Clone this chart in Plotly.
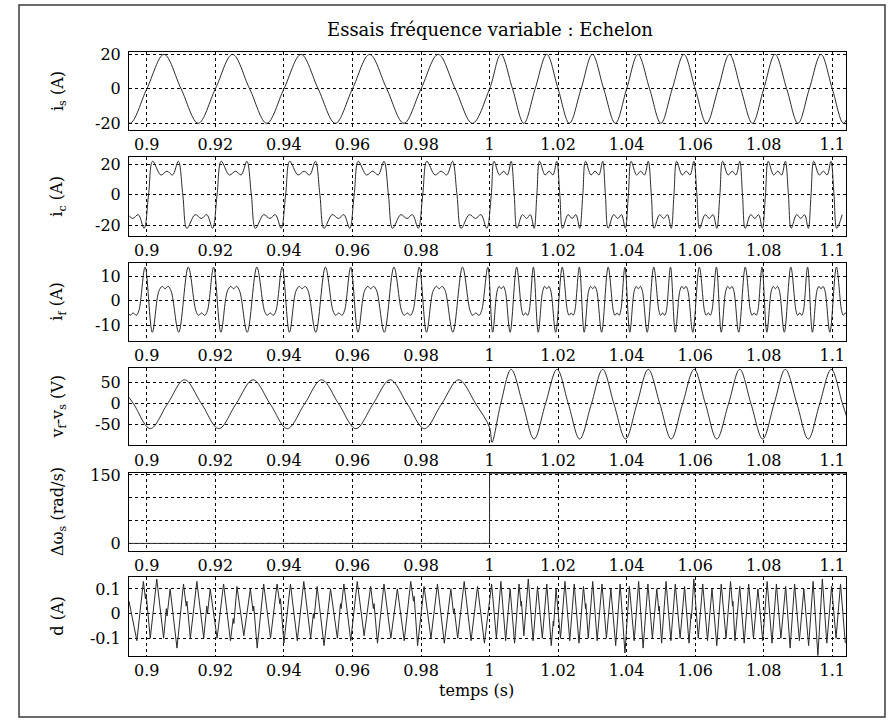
import plotly.graph_objects as go
from plotly.subplots import make_subplots

# ---- data (time in s) ----
x_ticks = [0.9, 0.92, 0.94, 0.96, 0.98, 1.0, 1.02, 1.04, 1.06, 1.08, 1.1]
x_tick_text = ["0.9", "0.92", "0.94", "0.96", "0.98", "1", "1.02", "1.04", "1.06", "1.08", "1.1"]

# i_s : stator current
t_is = [0.890, 0.895, 0.900, 0.905, 0.910, 0.915, 0.920, 0.925, 0.930, 0.935,
        0.940, 0.945, 0.950, 0.955, 0.960, 0.965, 0.970, 0.975, 0.980, 0.985,
        0.990, 0.995, 1.000, 1.0033, 1.0067, 1.0100, 1.0133, 1.0167, 1.0200, 1.0233,
        1.0267, 1.0300, 1.0333, 1.0367, 1.0400, 1.0433, 1.0467, 1.0500, 1.0533, 1.0567,
        1.0600, 1.0633, 1.0667, 1.0700, 1.0733, 1.0767, 1.0800, 1.0833, 1.0867, 1.0900,
        1.0933, 1.0967, 1.1000, 1.1033, 1.1067]
v_is = [0, -20, 0, 20, 0, -20, 0, 20, 0, -20,
        0, 20, 0, -20, 0, 20, 0, -20, 0, 20,
        0, -20, 0, 20, 0, -20, 0, 20, 0, -20,
        0, 20, 0, -20, 0, 20, 0, -20, 0, 20,
        0, -20, 0, 20, 0, -20, 0, 20, 0, -20,
        0, 20, 0, -20, 0]

# i_c : load current
t_ic = [0.8917, 0.8941, 0.8959, 0.8975, 0.8992, 0.9005,
        0.9017, 0.9041, 0.9059, 0.9075, 0.9092, 0.9105,
        0.9117, 0.9141, 0.9159, 0.9175, 0.9192, 0.9205,
        0.9217, 0.9241, 0.9259, 0.9275, 0.9292, 0.9305,
        0.9317, 0.9341, 0.9359, 0.9375, 0.9392, 0.9405,
        0.9417, 0.9441, 0.9459, 0.9475, 0.9492, 0.9505,
        0.9517, 0.9541, 0.9559, 0.9575, 0.9592, 0.9605,
        0.9617, 0.9641, 0.9659, 0.9675, 0.9692, 0.9705,
        0.9717, 0.9741, 0.9759, 0.9775, 0.9792, 0.9805,
        0.9817, 0.9841, 0.9859, 0.9875, 0.9892, 0.9905,
        0.9917, 0.9941, 0.9959, 0.9975, 0.9992, 1.0005,
        1.0013, 1.0029, 1.0041, 1.0052, 1.0063, 1.0072,
        1.0080, 1.0096, 1.0108, 1.0119, 1.0130, 1.0138,
        1.0146, 1.0162, 1.0174, 1.0185, 1.0196, 1.0205,
        1.0213, 1.0229, 1.0241, 1.0252, 1.0263, 1.0272,
        1.0280, 1.0296, 1.0308, 1.0319, 1.0330, 1.0338,
        1.0346, 1.0362, 1.0374, 1.0385, 1.0396, 1.0405,
        1.0413, 1.0429, 1.0441, 1.0452, 1.0463, 1.0472,
        1.0480, 1.0496, 1.0508, 1.0519, 1.0530, 1.0538,
        1.0546, 1.0562, 1.0574, 1.0585, 1.0596, 1.0605,
        1.0613, 1.0629, 1.0641, 1.0652, 1.0663, 1.0672,
        1.0680, 1.0696, 1.0708, 1.0719, 1.0730, 1.0738,
        1.0746, 1.0762, 1.0774, 1.0785, 1.0796, 1.0805,
        1.0813, 1.0829, 1.0841, 1.0852, 1.0863, 1.0872,
        1.0880, 1.0896, 1.0908, 1.0919, 1.0930, 1.0938,
        1.0946, 1.0962, 1.0974, 1.0985, 1.0996, 1.1005,
        1.1013, 1.1029]
v_ic = [-22, -13, -15.5, -13, -22, 0,
        22, 13, 15.5, 13, 22, 0,
        -22, -13, -15.5, -13, -22, 0,
        22, 13, 15.5, 13, 22, 0,
        -22, -13, -15.5, -13, -22, 0,
        22, 13, 15.5, 13, 22, 0,
        -22, -13, -15.5, -13, -22, 0,
        22, 13, 15.5, 13, 22, 0,
        -22, -13, -15.5, -13, -22, 0,
        22, 13, 15.5, 13, 22, 0,
        -22, -13, -15.5, -13, -22, 0,
        22, 13, 15.5, 13, 22, 0,
        -22, -13, -15.5, -13, -22, 0,
        22, 13, 15.5, 13, 22, 0,
        -22, -13, -15.5, -13, -22, 0,
        22, 13, 15.5, 13, 22, 0,
        -22, -13, -15.5, -13, -22, 0,
        22, 13, 15.5, 13, 22, 0,
        -22, -13, -15.5, -13, -22, 0,
        22, 13, 15.5, 13, 22, 0,
        -22, -13, -15.5, -13, -22, 0,
        22, 13, 15.5, 13, 22, 0,
        -22, -13, -15.5, -13, -22, 0,
        22, 13, 15.5, 13, 22, 0,
        -22, -13, -15.5, -13, -22, 0,
        22, 13, 15.5, 13, 22, 0,
        -22, -13]

# i_f : filter current
t_if = [0.8943, 0.8951, 0.8960, 0.8969, 0.8977,
        0.8995, 0.9016, 0.9035, 0.9045, 0.9053, 0.9062, 0.9071, 0.9093, 0.9121, 0.9143, 0.9151, 0.9160, 0.9169, 0.9177,
        0.9195, 0.9216, 0.9235, 0.9245, 0.9253, 0.9262, 0.9271, 0.9293, 0.9321, 0.9343, 0.9351, 0.9360, 0.9369, 0.9377,
        0.9395, 0.9416, 0.9435, 0.9445, 0.9453, 0.9462, 0.9471, 0.9493, 0.9521, 0.9543, 0.9551, 0.9560, 0.9569, 0.9577,
        0.9595, 0.9616, 0.9635, 0.9645, 0.9653, 0.9662, 0.9671, 0.9693, 0.9721, 0.9743, 0.9751, 0.9760, 0.9769, 0.9777,
        0.9795, 0.9816, 0.9835, 0.9845, 0.9853, 0.9862, 0.9871, 0.9893, 0.9921, 0.9943, 0.9951, 0.9960, 0.9969, 0.9977,
        0.9995, 1.0009, 1.0022, 1.0028, 1.0034, 1.0040, 1.0046, 1.0060, 1.0079, 1.0094, 1.0099, 1.0105, 1.0111, 1.0116,
        1.0128, 1.0142, 1.0155, 1.0161, 1.0167, 1.0173, 1.0179, 1.0193, 1.0212, 1.0227, 1.0232, 1.0238, 1.0244, 1.0249,
        1.0262, 1.0276, 1.0289, 1.0295, 1.0301, 1.0307, 1.0313, 1.0327, 1.0346, 1.0361, 1.0366, 1.0372, 1.0378, 1.0383,
        1.0395, 1.0409, 1.0422, 1.0428, 1.0434, 1.0440, 1.0446, 1.0460, 1.0479, 1.0494, 1.0499, 1.0505, 1.0511, 1.0516,
        1.0528, 1.0542, 1.0555, 1.0561, 1.0567, 1.0573, 1.0579, 1.0593, 1.0612, 1.0627, 1.0632, 1.0638, 1.0644, 1.0649,
        1.0662, 1.0676, 1.0689, 1.0695, 1.0701, 1.0707, 1.0713, 1.0727, 1.0746, 1.0761, 1.0766, 1.0772, 1.0778, 1.0783,
        1.0795, 1.0809, 1.0822, 1.0828, 1.0834, 1.0840, 1.0846, 1.0860, 1.0879, 1.0894, 1.0899, 1.0905, 1.0911, 1.0916,
        1.0928, 1.0942, 1.0955, 1.0961, 1.0967, 1.0973, 1.0979, 1.0993, 1.1012, 1.1027, 1.1032, 1.1038, 1.1044, 1.1049]
v_if = [-4, -6, -5, -6, -4,
        14, -13, 4, 6, 5, 6, 4, -13, 14, -4, -6, -5, -6, -4,
        14, -13, 4, 6, 5, 6, 4, -13, 14, -4, -6, -5, -6, -4,
        14, -13, 4, 6, 5, 6, 4, -13, 14, -4, -6, -5, -6, -4,
        14, -13, 4, 6, 5, 6, 4, -13, 14, -4, -6, -5, -6, -4,
        14, -13, 4, 6, 5, 6, 4, -13, 14, -4, -6, -5, -6, -4,
        14, -13, 4, 6, 5, 6, 4, -13, 14, -4, -6, -5, -6, -4,
        14, -13, 4, 6, 5, 6, 4, -13, 14, -4, -6, -5, -6, -4,
        14, -13, 4, 6, 5, 6, 4, -13, 14, -4, -6, -5, -6, -4,
        14, -13, 4, 6, 5, 6, 4, -13, 14, -4, -6, -5, -6, -4,
        14, -13, 4, 6, 5, 6, 4, -13, 14, -4, -6, -5, -6, -4,
        14, -13, 4, 6, 5, 6, 4, -13, 14, -4, -6, -5, -6, -4,
        14, -13, 4, 6, 5, 6, 4, -13, 14, -4, -6, -5, -6, -4,
        14, -13, 4, 6, 5, 6, 4, -13, 14, -4, -6, -5, -6, -4]

# v_f - v_s
t_v = [0.8910, 0.8960, 0.9010, 0.9060, 0.9110, 0.9160, 0.9210, 0.9260, 0.9310, 0.9360,
       0.9410, 0.9460, 0.9510, 0.9560, 0.9610, 0.9660, 0.9710, 0.9760, 0.9810, 0.9860,
       0.9910, 0.9960, 1.0000, 1.0007, 1.0033, 1.0063, 1.0097, 1.0130, 1.0163, 1.0197,
       1.0230, 1.0263, 1.0297, 1.0330, 1.0363, 1.0397, 1.0430, 1.0463, 1.0497, 1.0530,
       1.0563, 1.0597, 1.0630, 1.0663, 1.0697, 1.0730, 1.0763, 1.0797, 1.0830, 1.0863,
       1.0897, 1.0930, 1.0963, 1.0997, 1.1030, 1.1063]
v_v = [56, 0, -61, -2, 56, -2, -61, -2, 56, -2,
       -61, -2, 56, -2, -61, -2, 56, -2, -61, -2,
       56, -2, -58, -94, 0, 81, -2, -86, -2, 81,
       -2, -86, -2, 81, -2, -86, -2, 81, -2, -86,
       -2, 81, -2, -86, -2, 81, -2, -86, -2, 81,
       -2, -86, -2, 81, -2, -86]

# delta omega_s (step)
t_dw = [0.8948, 1.0, 1.0, 1.104]
v_dw = [0, 0, 153.5, 153.5]

# d
t_d = [0.8948, 0.8971, 0.8990, 0.8996, 0.8998, 0.9010, 0.9029, 0.9049, 0.9057, 0.9059,
       0.9068, 0.9088, 0.9107, 0.9115, 0.9117, 0.9127, 0.9146, 0.9166, 0.9175, 0.9177,
       0.9185, 0.9205, 0.9224, 0.9244, 0.9252, 0.9254, 0.9263, 0.9283, 0.9302, 0.9310,
       0.9312, 0.9322, 0.9341, 0.9361, 0.9380, 0.9388, 0.9390, 0.9400, 0.9419, 0.9439,
       0.9458, 0.9478, 0.9486, 0.9488, 0.9497, 0.9517, 0.9536, 0.9556, 0.9565, 0.9567,
       0.9575, 0.9595, 0.9614, 0.9634, 0.9653, 0.9661, 0.9663, 0.9673, 0.9692, 0.9712,
       0.9731, 0.9751, 0.9770, 0.9778, 0.9780, 0.9790, 0.9809, 0.9829, 0.9848, 0.9868,
       0.9887, 0.9895, 0.9897, 0.9907, 0.9926, 0.9946, 0.9965, 0.9985,
       1.0006, 1.0020, 1.0033, 1.0047, 1.0060, 1.0073, 1.0086, 1.0092, 1.0093, 1.0100,
       1.0113, 1.0127, 1.0140, 1.0154, 1.0167, 1.0180, 1.0186, 1.0187, 1.0194, 1.0207,
       1.0220, 1.0234, 1.0247, 1.0261, 1.0274, 1.0280, 1.0281, 1.0288, 1.0301, 1.0314,
       1.0328, 1.0341, 1.0354, 1.0368, 1.0381, 1.0387, 1.0388, 1.0395, 1.0408, 1.0422,
       1.0435, 1.0448, 1.0462, 1.0475, 1.0488, 1.0494, 1.0495, 1.0502, 1.0515, 1.0529,
       1.0542, 1.0556, 1.0569, 1.0582, 1.0588, 1.0589, 1.0596, 1.0609, 1.0622, 1.0636,
       1.0649, 1.0663, 1.0676, 1.0690, 1.0703, 1.0709, 1.0710, 1.0716, 1.0730, 1.0743,
       1.0756, 1.0770, 1.0783, 1.0797, 1.0810, 1.0816, 1.0817, 1.0824, 1.0837, 1.0850,
       1.0864, 1.0877, 1.0890, 1.0904, 1.0917, 1.0923, 1.0924, 1.0931, 1.0944, 1.0958,
       1.0971, 1.0984, 1.0998, 1.1011, 1.1024, 1.1038]
v_d = [0.05, -0.11, 0.13, 0.06, 0.08, -0.10, 0.14, -0.10, 0.02, -0.01,
       0.10, -0.14, 0.12, 0.03, 0.05, -0.10, 0.13, -0.10, 0.03, 0.0,
       0.10, -0.10, 0.12, -0.11, -0.02, -0.04, 0.11, -0.09, 0.10, 0.01,
       0.03, -0.14, 0.12, -0.10, 0.12, 0.04, 0.06, -0.12, 0.12, -0.11,
       0.13, -0.10, 0.0, -0.02, 0.11, -0.13, 0.10, -0.10, 0.04, 0.02,
       0.12, -0.11, 0.13, -0.09, 0.11, 0.02, 0.04, -0.12, 0.12, -0.10,
       0.10, -0.11, 0.13, 0.05, 0.07, -0.13, 0.11, -0.10, 0.12, -0.12,
       0.10, 0.0, 0.02, -0.10, 0.13, -0.11, 0.11, -0.12,
       0.12, -0.10, 0.13, -0.11, 0.10, -0.12, 0.12, 0.03, 0.05, -0.09,
       0.14, -0.11, 0.11, -0.10, 0.12, -0.13, -0.03, -0.05, 0.10, -0.10,
       0.13, -0.11, 0.12, -0.12, 0.11, 0.02, 0.04, -0.10, 0.13, -0.11,
       0.12, -0.10, 0.10, -0.13, 0.12, 0.0, 0.02, -0.16, 0.11, -0.11,
       0.13, -0.14, 0.12, -0.10, 0.10, 0.01, 0.03, -0.12, 0.13, -0.11,
       0.12, -0.10, 0.11, -0.12, 0.0, -0.02, 0.14, -0.10, 0.12, -0.11,
       0.10, -0.13, 0.12, -0.10, 0.13, 0.03, 0.05, -0.11, 0.11, -0.12,
       0.12, -0.10, 0.10, -0.11, 0.13, 0.02, 0.04, -0.12, 0.12, -0.10,
       0.11, -0.14, 0.12, -0.11, 0.10, -0.01, 0.01, -0.13, 0.13, -0.17,
       0.14, -0.12, 0.11, -0.10, 0.12, -0.12]

y_titles = ["i<sub>s</sub> (A)", "i<sub>c</sub> (A)", "i<sub>f</sub> (A)",
            "v<sub>f</sub>-v<sub>s</sub> (V)", "\u0394\u03c9<sub>s</sub> (rad/s)", "d (A)"]
y_tickvals = [[-20, 0, 20], [-20, 0, 20], [-10, 0, 10], [-50, 0, 50], [0, 150], [-0.1, 0, 0.1]]
y_ticktext = [["-20", "0", "20"], ["-20", "0", "20"], ["-10", "0", "10"], ["-50", "0", "50"],
              ["0", "150"], ["-0.1", "0", "0.1"]]
y_minor = [[], [], [], [], [50, 100], []]
y_ranges = [[-23.9, 21.4], [-27, 24.6], [-16.5, 15.8], [-101, 85], [-16, 153.7], [-0.172, 0.147]]

# ---- layout (pixels in the 888x720 picture) ----
W, H = 888, 720
ML, MR, MT, MB = 129, 42, 52, 64
PW, PH = W - ML - MR, H - MT - MB
panel_px = [(52, 130), (157.3, 236), (262.7, 340.7), (367.7, 445.3), (473.3, 550.7), (577.3, 656)]


def px_x(x):
    return (x - ML) / PW


def px_y(y):
    return (H - MB - y) / PH


FONT = "DejaVu Serif"
fig = make_subplots(rows=6, cols=1)

series = [(t_is, v_is, "spline"), (t_ic, v_ic, "spline"), (t_if, v_if, "spline"),
          (t_v, v_v, "spline"), (t_dw, v_dw, "linear"), (t_d, v_d, "linear")]

axis_style = dict(showgrid=True, gridcolor="black", griddash="dot", gridwidth=1,
                  showline=True, mirror=True, linecolor="black", linewidth=1,
                  zeroline=False, ticks="", tickfont=dict(family=FONT, size=16, color="black"))

for i, (t, v, shape) in enumerate(series, start=1):
    fig.add_trace(go.Scatter(x=t, y=v, mode="lines",
                             line=dict(color="#2a2a2a", width=1, shape=shape),
                             showlegend=False, hoverinfo="skip"),
                  row=i, col=1)
    top, bot = panel_px[i - 1]
    minor = dict(tickmode="array", tickvals=y_minor[i - 1], showgrid=True,
                 gridcolor="black", griddash="dot", gridwidth=1) if y_minor[i - 1] else None
    fig.update_yaxes(domain=[px_y(bot), px_y(top)], range=y_ranges[i - 1],
                     tickvals=y_tickvals[i - 1], ticktext=y_ticktext[i - 1],
                     ticklabelstandoff=4, minor=minor, **axis_style,
                     row=i, col=1)
    fig.update_xaxes(range=[0.8948, 1.104], tickvals=x_ticks, ticktext=x_tick_text,
                     **axis_style, row=i, col=1)
    fig.add_annotation(text=y_titles[i - 1], xref="paper", yref="paper",
                       x=px_x(58), y=px_y((top + bot) / 2), textangle=-90,
                       showarrow=False, xanchor="center", yanchor="middle",
                       font=dict(family=FONT, size=16, color="black"))

fig.add_annotation(text="Essais fr\u00e9quence variable : Echelon", xref="paper", yref="paper",
                   x=px_x(490), y=px_y(30), showarrow=False, xanchor="center", yanchor="middle",
                   font=dict(family=FONT, size=18, color="black"))
fig.add_annotation(text="temps (s)", xref="paper", yref="paper",
                   x=px_x(476), y=px_y(690), showarrow=False, xanchor="center", yanchor="middle",
                   font=dict(family=FONT, size=16, color="black"))

# outer frame
fig.add_shape(type="rect", xref="paper", yref="paper",
              x0=px_x(19), x1=px_x(885), y0=px_y(717), y1=px_y(5),
              line=dict(color="#3a3a3a", width=1.5))

fig.update_layout(width=W, height=H, margin=dict(l=ML, r=MR, t=MT, b=MB),
                  paper_bgcolor="white", plot_bgcolor="white", showlegend=False)

fig.write_html("out.html", config={"displayModeBar": False},
               post_script="document.body.style.margin='0';")
